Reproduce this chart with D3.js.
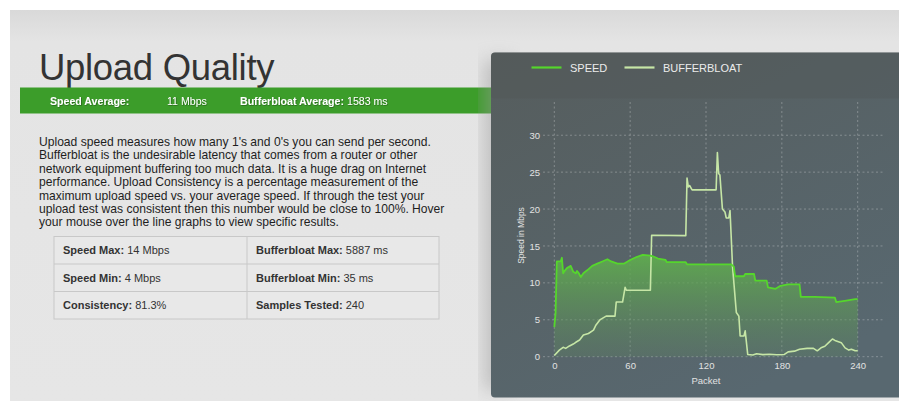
<!DOCTYPE html>
<html>
<head>
<meta charset="utf-8">
<script src="https://cdn.jsdelivr.net/npm/d3@7"></script>
<style>
  html, body { margin: 0; padding: 0; background: #ffffff; }
  svg { display: block; font-family: "Liberation Sans", Arial, Helvetica, sans-serif; }
</style>
</head>
<body>
<svg id="page" width="899" height="401"></svg>
<script>
// ---- Data ---------------------------------------------------------------
const title = "Upload Quality";
const summaryLabels = ["Speed Average:", "Bufferbloat Average:"];
const summaryValues = ["11 Mbps", "1583 ms"];

const descriptionLines = [
  "Upload speed measures how many 1's and 0's you can send per second.",
  "Bufferbloat is the undesirable latency that comes from a router or other",
  "network equipment buffering too much data. It is a huge drag on Internet",
  "performance. Upload Consistency is a percentage measurement of the",
  "maximum upload speed vs. your average speed. If through the test your",
  "upload test was consistent then this number would be close to 100%. Hover",
  "your mouse over the line graphs to view specific results."
];

const statLabels = ["Speed Max:", "Bufferbloat Max:", "Speed Min:", "Bufferbloat Min:", "Consistency:", "Samples Tested:"];
const statValues = ["14 Mbps", "5887 ms", "4 Mbps", "35 ms", "81.3%", "240"];

const seriesNames = ["SPEED", "BUFFERBLOAT"];
const xTicks = [0, 60, 120, 180, 240];
const yTicks = [0, 5, 10, 15, 20, 25, 30];

// upload speed per packet, Mbps
const speedPackets = [0, 1, 2, 5, 6, 7, 8, 10, 12, 13, 15, 17, 18, 19, 21, 23, 26, 30, 34, 38, 42, 45, 50, 55, 60, 65, 70, 76, 78, 82, 88, 89, 104, 105, 140, 142, 143, 150, 151, 158, 159, 168, 169, 175, 179, 185, 194, 195, 206, 222, 223, 231, 238, 240];
const speedValues  = [4.0, 5.9, 12.9, 12.9, 13.4, 11.3, 11.6, 12.0, 12.2, 12.3, 11.5, 11.3, 11.6, 11.4, 10.8, 11.3, 11.7, 12.3, 12.6, 12.9, 13.2, 12.9, 12.6, 12.6, 13.1, 13.5, 13.8, 13.7, 13.6, 13.3, 13.1, 12.8, 12.8, 12.5, 12.5, 12.2, 10.9, 10.9, 11.2, 11.2, 10.3, 10.3, 9.4, 9.2, 9.6, 9.8, 9.8, 8.1, 8.1, 8.0, 7.4, 7.6, 7.8, 7.8];

// bufferbloat per packet, ms
const bloatPackets = [0, 4, 7, 9, 12, 15, 17, 20, 23, 27, 31, 33, 36, 38, 41, 48, 49, 54, 56, 57, 76, 77, 104, 105, 106, 107, 109, 128, 129, 130, 131, 133, 135, 136, 138, 139, 141, 144, 146, 147, 150, 151, 153, 157, 160, 165, 170, 176, 182, 185, 190, 194, 200, 205, 208, 211, 214, 217, 220, 222, 227, 230, 233, 235, 238, 240];
const bloatValues  = [35, 190, 270, 240, 310, 365, 415, 480, 625, 670, 765, 915, 1060, 1105, 1170, 1170, 1575, 1575, 2000, 1915, 1915, 3500, 3490, 5150, 4895, 4935, 4810, 4810, 5887, 5280, 5235, 4255, 4170, 4000, 4000, 4215, 2595, 1275, 1170, 595, 595, 745, 65, 50, 85, 60, 70, 55, 65, 140, 160, 215, 240, 240, 170, 255, 300, 405, 510, 470, 405, 255, 190, 215, 170, 170];

const speedData = speedPackets.map((p, i) => ({ x: p, y: speedValues[i] }));
const bloatData = bloatPackets.map((p, i) => ({ x: p, y: bloatValues[i] }));

// ---- Page --------------------------------------------------------------
const svg = d3.select("#page");
const defs = svg.append("defs");

const bgGrad = defs.append("linearGradient").attr("id", "bgGrad")
  .attr("x1", 0).attr("y1", 0).attr("x2", 0).attr("y2", 1);
bgGrad.append("stop").attr("offset", "0%").attr("stop-color", "#d9d9d9");
bgGrad.append("stop").attr("offset", "8%").attr("stop-color", "#e4e4e4");
bgGrad.append("stop").attr("offset", "100%").attr("stop-color", "#e6e6e6");

svg.append("rect").attr("x", 0).attr("y", 0).attr("width", 899).attr("height", 401).attr("fill", "#ffffff");
svg.append("rect").attr("x", 10).attr("y", 10).attr("width", 889).attr("height", 391).attr("fill", "url(#bgGrad)");

// title
svg.append("text").attr("x", 39).attr("y", 80)
  .attr("font-size", 36.5).attr("fill", "#333333").attr("letter-spacing", -0.3)
  .text(title);

// green summary bar
svg.append("rect").attr("x", 20).attr("y", 87.5).attr("width", 480).attr("height", 26).attr("fill", "#3c9d2a");
const shadow = defs.append("filter").attr("id", "txtShadow");
shadow.append("feDropShadow").attr("dx", 0.6).attr("dy", 0.6).attr("stdDeviation", 0.5)
  .attr("flood-color", "#000").attr("flood-opacity", 0.45);
const summaryX = [50, 240];
const summaryGap = [null, 3];
summaryLabels.forEach((lab, i) => {
  const g = svg.append("g").attr("filter", "url(#txtShadow)");
  const t = g.append("text").attr("x", summaryX[i]).attr("y", 104.5)
    .attr("font-size", 10.6).attr("fill", "#ffffff");
  t.append("tspan").attr("font-weight", "bold").text(lab);
  if (i === 0) {
    g.append("text").attr("x", 167).attr("y", 104.5)
      .attr("font-size", 10.6).attr("fill", "#ffffff").text(summaryValues[i]);
  } else {
    t.append("tspan").attr("dx", summaryGap[i]).text(summaryValues[i]);
  }
});

// description paragraph
svg.append("g").selectAll("text").data(descriptionLines).join("text")
  .attr("x", 39).attr("y", (d, i) => 146 + i * 13.4)
  .attr("font-size", 12.1).attr("fill", "#1e1e1e").text(d => d);

// stats table
const tX = 54, tY = 236.5, colW = [193, 192], rowH = 27.5;
const table = svg.append("g");
table.append("rect").attr("x", tX).attr("y", tY).attr("width", colW[0] + colW[1]).attr("height", rowH * 3)
  .attr("fill", "#e8e8e8").attr("stroke", "#c8c8c8");
[1, 2].forEach(r => table.append("line").attr("x1", tX).attr("x2", tX + colW[0] + colW[1])
  .attr("y1", tY + r * rowH).attr("y2", tY + r * rowH).attr("stroke", "#c8c8c8"));
table.append("line").attr("x1", tX + colW[0]).attr("x2", tX + colW[0])
  .attr("y1", tY).attr("y2", tY + rowH * 3).attr("stroke", "#c8c8c8");
statLabels.forEach((lab, i) => {
  const r = Math.floor(i / 2), c = i % 2;
  const t = table.append("text").attr("x", tX + 9 + c * colW[0]).attr("y", tY + r * rowH + 17.5)
    .attr("font-size", 11).attr("fill", "#333333");
  t.append("tspan").attr("font-weight", "bold").text(lab + " ");
  t.append("tspan").text(statValues[i]);
});

// ---- Chart panel -------------------------------------------------------
const panelShadow = defs.append("filter").attr("id", "panelShadow")
  .attr("x", "-20%").attr("y", "-20%").attr("width", "140%").attr("height", "140%");
panelShadow.append("feGaussianBlur").attr("stdDeviation", 9);
svg.append("rect").attr("x", 484).attr("y", 60).attr("width", 30).attr("height", 330)
  .attr("fill", "#9a9a9a").attr("opacity", 0.5).attr("filter", "url(#panelShadow)");

const panelGrad = defs.append("linearGradient").attr("id", "panelGrad")
  .attr("x1", 0).attr("y1", 0).attr("x2", 0.6).attr("y2", 1);
panelGrad.append("stop").attr("offset", "0%").attr("stop-color", "#565d5d");
panelGrad.append("stop").attr("offset", "100%").attr("stop-color", "#586870");

svg.append("rect").attr("x", 491).attr("y", 52.5).attr("width", 420).attr("height", 345).attr("rx", 4)
  .attr("fill", "url(#panelGrad)");
// darker band behind the legend
svg.append("rect").attr("x", 491).attr("y", 52.5).attr("width", 420).attr("height", 46).attr("rx", 4)
  .attr("fill", "#4f5656").attr("opacity", 0.35);

// scales
const x = d3.scaleLinear().domain([0, 240]).range([554.3, 857.7]);
const y = d3.scaleLinear().domain([0, 34.5]).range([356.7, 102]);
const yBloat = d3.scaleLinear().domain([0, 7342]).range([356.7, 102]);
const plotLeft = 543, plotRight = 884;

// grid
const grid = svg.append("g").attr("stroke", "rgba(255,255,255,0.28)").attr("stroke-dasharray", "2,2.5");
grid.selectAll(".h").data(yTicks).join("line")
  .attr("x1", plotLeft).attr("x2", plotRight)
  .attr("y1", d => y(d)).attr("y2", d => y(d));
grid.selectAll(".v").data(xTicks).join("line")
  .attr("x1", d => x(d)).attr("x2", d => x(d))
  .attr("y1", 102).attr("y2", 360);

// axes (labels only; domain lines and tick marks hidden)
const yAxis = svg.append("g").attr("transform", `translate(${plotLeft - 2},0)`)
  .call(d3.axisLeft(y).tickValues(yTicks).tickSize(0).tickPadding(1));
const xAxis = svg.append("g").attr("transform", `translate(0,361)`)
  .call(d3.axisBottom(x).tickValues(xTicks).tickSize(0).tickPadding(1));
[yAxis, xAxis].forEach(a => {
  a.select(".domain").remove();
  a.selectAll("text").attr("fill", "#e2e2e2").attr("font-size", 9.5)
    .attr("font-family", "Liberation Sans, Arial, sans-serif");
});

svg.append("text").attr("transform", `translate(524,${y(17.5) + 8}) rotate(-90)`)
  .attr("text-anchor", "middle").attr("font-size", 8.5).attr("fill", "#e2e2e2").text("Speed in Mbps");
svg.append("text").attr("x", 706).attr("y", 384)
  .attr("text-anchor", "middle").attr("font-size", 9.5).attr("fill", "#e2e2e2").text("Packet");

// area under speed
const fillGrad = defs.append("linearGradient").attr("id", "fillGrad")
  .attr("gradientUnits", "userSpaceOnUse").attr("x1", 0).attr("x2", 0)
  .attr("y1", y(14)).attr("y2", y(0));
fillGrad.append("stop").attr("offset", "0%").attr("stop-color", "#5fad4e").attr("stop-opacity", 0.95);
fillGrad.append("stop").attr("offset", "100%").attr("stop-color", "#5d8a5c").attr("stop-opacity", 0.25);

svg.append("path").datum(speedData)
  .attr("fill", "url(#fillGrad)")
  .attr("d", d3.area().x(d => x(d.x)).y0(y(0)).y1(d => y(d.y)));

svg.append("path").datum(bloatData)
  .attr("fill", "none").attr("stroke", "#c6e6a6").attr("stroke-width", 1.6).attr("stroke-linejoin", "round")
  .attr("d", d3.line().x(d => x(d.x)).y(d => yBloat(d.y)));

svg.append("path").datum(speedData)
  .attr("fill", "none").attr("stroke", "#55d62c").attr("stroke-width", 1.8).attr("stroke-linejoin", "round")
  .attr("d", d3.line().x(d => x(d.x)).y(d => y(d.y)));

// legend
const legendColors = ["#55d62c", "#c6e6a6"];
const legendX = [531.5, 624.5];
seriesNames.forEach((name, i) => {
  svg.append("line").attr("x1", legendX[i]).attr("x2", legendX[i] + 30)
    .attr("y1", 67.5).attr("y2", 67.5).attr("stroke", legendColors[i]).attr("stroke-width", 2.2);
  svg.append("text").attr("x", legendX[i] + 38.5).attr("y", 72)
    .attr("font-size", 11).attr("fill", "#ececec").text(name);
});
</script>
</body>
</html>
